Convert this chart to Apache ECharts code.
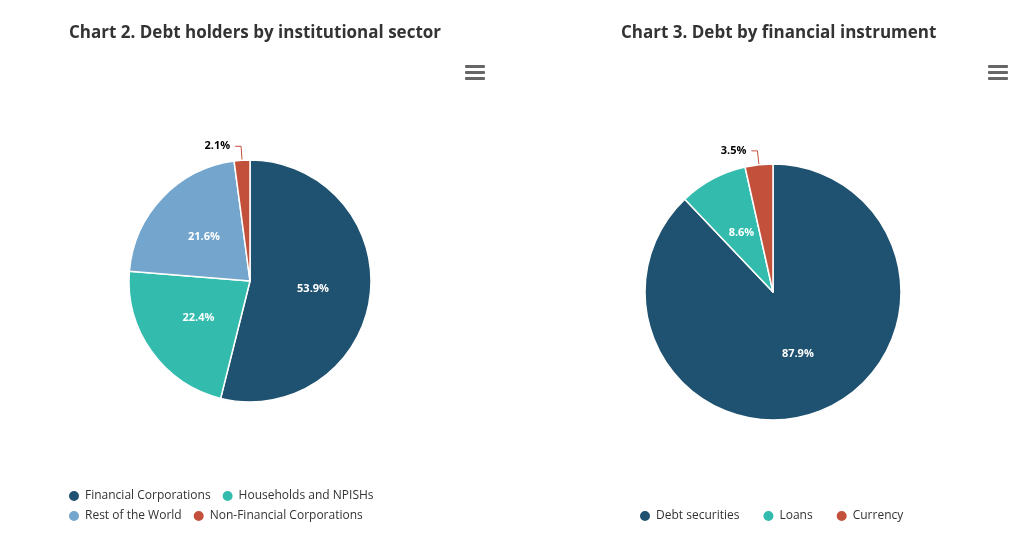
<!DOCTYPE html>
<html>
<head>
<meta charset="utf-8">
<script src="https://cdn.jsdelivr.net/npm/echarts@6/dist/echarts.min.js"></script>
<style>html,body{margin:0;padding:0;background:#fff}#c{width:1034px;height:541px}</style>
</head>
<body>
<div id="c"></div>
<script>
// 数据
var sectorNames = ['Financial Corporations', 'Households and NPISHs', 'Rest of the World', 'Non-Financial Corporations'];
var sectorValues = [53.9, 22.4, 21.6, 2.1];
var instrNames = ['Debt securities', 'Loans', 'Currency'];
var instrValues = [87.9, 8.6, 3.5];
var sectorColors = ['#1f5270', '#33bcad', '#74a5cc', '#c2503a'];
var instrColors = ['#1f5270', '#33bcad', '#c2503a'];

var font = '"Open Sans", sans-serif';

function buildData(names, values, colors) {
    var out = [];
    for (var i = 0; i < names.length; i++) {
        var item = { name: names[i], value: values[i], itemStyle: { color: colors[i] } };
        if (values[i] < 5) {
            item.label = { position: 'outside', color: '#000', fontWeight: 'bold', fontSize: 11 };
            item.labelLine = { show: true, length: 14, length2: 6, lineStyle: { color: colors[i] } };
        }
        out.push(item);
    }
    return out;
}

// 菜单图标（三条横线）
function menuBars(x, y) {
    var bars = [];
    for (var k = 0; k < 3; k++) {
        bars.push({ type: 'rect', left: x, top: y + k * 6, shape: { width: 20, height: 3, r: 1 }, style: { fill: '#666' } });
    }
    return bars;
}

var myChart = echarts.init(document.getElementById('c'));
var legendText = { fontFamily: font, fontSize: 12, color: '#333', width: 168 };
myChart.setOption({
    animation: false,
    textStyle: { fontFamily: font },
    title: [
        { text: 'Chart 2. Debt holders by institutional sector', left: 64, top: 20,
          textStyle: { fontFamily: font, fontSize: 17, fontWeight: 'bold', color: '#333' } },
        { text: 'Chart 3. Debt by financial instrument', left: 616, top: 20,
          textStyle: { fontFamily: font, fontSize: 17, fontWeight: 'bold', color: '#333' } }
    ],
    graphic: menuBars(465, 65).concat(menuBars(988, 65)),
    legend: [
        { data: [sectorNames[0], sectorNames[1]], left: 62, top: 484, icon: 'circle', itemWidth: 12, itemHeight: 12, itemGap: 10, textStyle: legendText },
        { data: [sectorNames[2], sectorNames[3]], left: 62, top: 504, icon: 'circle', itemWidth: 12, itemHeight: 12, itemGap: 10, textStyle: legendText },
        { data: instrNames, left: 633, top: 504, icon: 'circle', itemWidth: 12, itemHeight: 12, itemGap: 22, textStyle: { fontFamily: font, fontSize: 12, color: '#333' } }
    ],
    series: [
        {
            type: 'pie', center: [250, 281], radius: 121, startAngle: 90, clockwise: true,
            itemStyle: { borderColor: '#fff', borderWidth: 1.5 },
            label: { show: true, position: 'inner', formatter: '{c}%', color: '#fff', fontWeight: 'bold', fontSize: 11 },
            labelLine: { show: false },
            data: buildData(sectorNames, sectorValues, sectorColors)
        },
        {
            type: 'pie', center: [773, 292], radius: 128, startAngle: 90, clockwise: true,
            itemStyle: { borderColor: '#fff', borderWidth: 1.5 },
            label: { show: true, position: 'inner', formatter: '{c}%', color: '#fff', fontWeight: 'bold', fontSize: 11 },
            labelLine: { show: false },
            data: buildData(instrNames, instrValues, instrColors)
        }
    ]
});
</script>
</body>
</html>
